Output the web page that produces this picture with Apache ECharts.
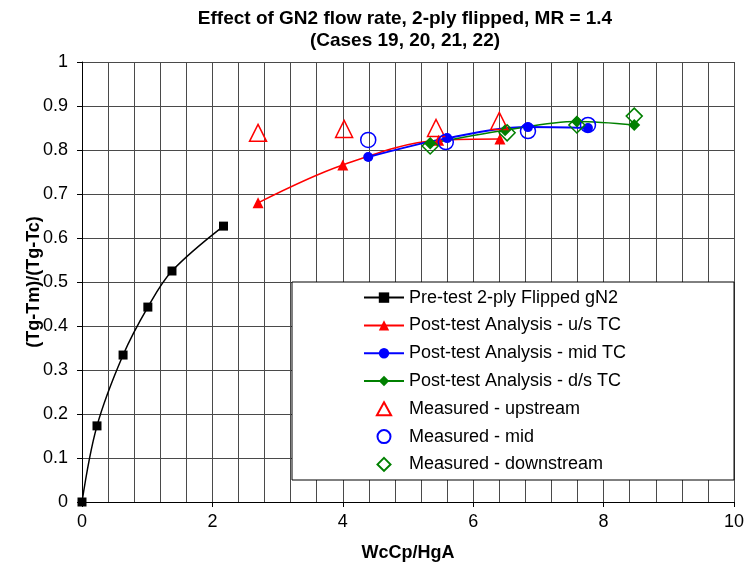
<!DOCTYPE html>
<html><head><meta charset="utf-8">
<script src="https://cdn.jsdelivr.net/npm/echarts@6/dist/echarts.min.js"></script>
<style>html,body{margin:0;padding:0;background:#fff}#c{width:745px;height:562px}</style>
</head><body><div id="c"></div>
<script>
const titleText = 'Effect of GN2 flow rate, 2-ply flipped, MR = 1.4\n(Cases 19, 20, 21, 22)';
const xTitle = 'WcCp/HgA';
const yTitle = '(Tg-Tm)/(Tg-Tc)';
const seriesNames = ['Pre-test 2-ply Flipped gN2','Post-test Analysis - u/s TC','Post-test Analysis - mid TC','Post-test Analysis - d/s TC','Measured - upstream','Measured - mid','Measured - downstream'];
const preTest = [[0,0],[0.23,0.173],[0.63,0.334],[1.01,0.443],[1.38,0.525],[2.17,0.627]];
const postUs = [[2.7,0.68],[4.0,0.766],[5.47,0.822],[6.41,0.825]];
const postMid = [[4.39,0.784],[5.6,0.827],[6.84,0.852],[7.76,0.85]];
const postDs = [[5.34,0.815],[6.49,0.845],[7.59,0.865],[8.47,0.857]];
const measUp = [[2.7,0.839],[4.02,0.848],[5.43,0.85],[6.4,0.866]];
const measMid = [[4.39,0.823],[5.58,0.818],[6.84,0.843],[7.76,0.857]];
const measDs = [[5.34,0.809],[6.52,0.839],[7.59,0.857],[8.47,0.877]];

const chart = echarts.init(document.getElementById('c'));
const gridColor = '#4a4a4a';
const FONT = 'Liberation Sans, Arial, sans-serif';
const triPath = 'path://M6,0L12,11L0,11Z';
const diaPath = 'path://M6,0L12,6L6,12L0,6Z';
function lineS(name, data, color, symbol, size, width){
  return {name, type:'line', data, smooth:0.35, symbol, symbolSize:size,
    lineStyle:{color, width}, itemStyle:{color, opacity:1}, z:3};
}
function openS(name, data, color, symbol, size){
  return {name, type:'scatter', data, symbol, symbolSize:size,
    itemStyle:{color:'transparent', borderColor:color, borderWidth:1.5, opacity:1}, z:4};
}
const legendData = seriesNames.map((n, i) => {
  if (i === 4) return {name:n, icon:triPath};
  if (i === 6) return {name:n, icon:diaPath};
  return {name:n};
});
chart.setOption({
  animation:false,
  backgroundColor:'#fff',
  title:{text:titleText, left:400, textAlign:'center', top:3,
    textStyle:{fontFamily:FONT, fontWeight:'bold', fontSize:19, lineHeight:22, color:'#000'}},
  grid:{left:82, right:11, top:62, bottom:60, containLabel:false, outerBoundsMode:'none'},
  legend:{orient:'vertical', left:292, top:282, itemWidth:40, itemHeight:13, itemGap:7.8,
    symbolKeepAspect:true,
    padding:[5.6,108,5.6,71], backgroundColor:'#fff', borderColor:'#000', borderWidth:1,
    textStyle:{fontFamily:FONT, fontSize:18, color:'#000', lineHeight:20},
    data:legendData},
  xAxis:{type:'value', min:0, max:10, interval:2,
    name:xTitle, nameLocation:'middle', nameGap:42, nameMoveOverlap:false,
    nameTextStyle:{fontFamily:FONT, fontWeight:'bold', fontSize:18, color:'#000'},
    axisLine:{show:true, onZero:false, lineStyle:{color:'#000', width:1}},
    axisTick:{show:true, length:5, lineStyle:{color:'#000'}},
    minorTick:{show:true, splitNumber:5, length:0},
    axisLabel:{fontFamily:FONT, fontSize:18, color:'#000', margin:11},
    splitLine:{show:true, lineStyle:{color:gridColor, width:1}},
    minorSplitLine:{show:true, lineStyle:{color:gridColor, width:1}}},
  yAxis:{type:'value', min:0, max:1, interval:0.1,
    name:yTitle, nameLocation:'middle', nameGap:39, nameMoveOverlap:false,
    nameTextStyle:{fontFamily:FONT, fontWeight:'bold', fontSize:18, color:'#000'},
    axisLine:{show:true, onZero:false, lineStyle:{color:'#000', width:1}},
    axisTick:{show:true, length:5, lineStyle:{color:'#000'}},
    axisLabel:{fontFamily:FONT, fontSize:18, color:'#000', margin:14},
    splitLine:{show:true, lineStyle:{color:gridColor, width:1}}},
  series:[
    lineS(seriesNames[0], preTest, '#000', 'rect', 9, 1.5),
    lineS(seriesNames[1], postUs, '#ff0000', 'triangle', 11, 1.5),
    lineS(seriesNames[2], postMid, '#0000ff', 'circle', 10, 2),
    lineS(seriesNames[3], postDs, '#008000', 'diamond', 12, 1.5),
    openS(seriesNames[4], measUp, '#ff0000', 'triangle', 17),
    openS(seriesNames[5], measMid, '#0000ff', 'circle', 15),
    openS(seriesNames[6], measDs, '#008000', 'diamond', 16)
  ]
});
</script></body></html>
